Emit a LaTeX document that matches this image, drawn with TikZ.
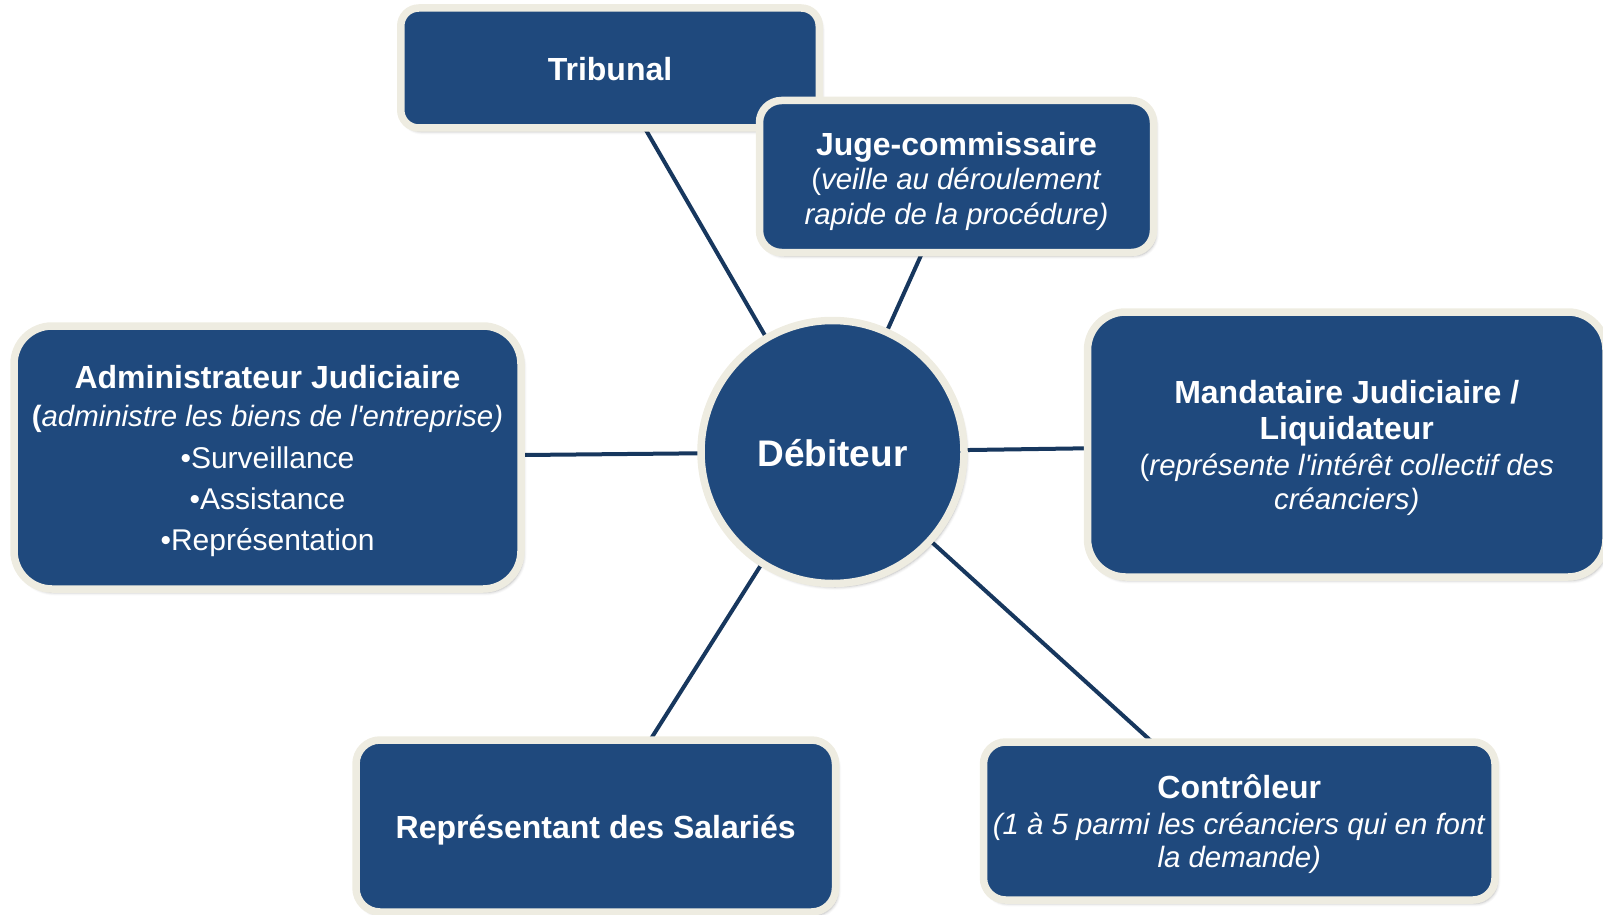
\documentclass[tikz,border=0pt]{standalone}
\usepackage{fontspec}
\newfontfamily\arial{Liberation Sans}
\usetikzlibrary{shadows.blur,backgrounds}

\definecolor{boxblue}{HTML}{1F497D}
\definecolor{rimcream}{HTML}{EEECE1}
\definecolor{linknavy}{HTML}{17375E}

\newcommand\boxtitle{\bfseries\fontsize{32}{34}\selectfont}

\tikzset{
  actor/.style={draw=rimcream, line width=7.5pt, fill=boxblue,
    inner sep=0pt,
    blur shadow={shadow xshift=2.5pt, shadow yshift=-3.5pt,
      shadow blur radius=3pt, shadow opacity=30}},
  caption/.style={text=white, align=center, inner sep=0pt,
    font=\arial\fontsize{29.4}{#1}\selectfont},
  link/.style={draw=linknavy, line width=4pt},
}

\begin{document}
\begin{tikzpicture}[x=1pt,y=-1pt]
  \useasboundingbox (0,0) rectangle (1603,915);

  % shapes: the central party and the actors of the procedure
  \node[actor, circle, minimum size=263pt] (deb) at (832.5,452) {};
  \node[actor, rounded corners=18pt, minimum width=418.5pt, minimum height=120pt]
    (trib) at (610,68) {};
  \node[actor, rounded corners=22pt, minimum width=394pt, minimum height=152pt]
    (juge) at (956.5,176.5) {};
  \node[actor, rounded corners=38pt, minimum width=507pt, minimum height=263pt]
    (admin) at (267.5,457.5) {};
  \node[actor, rounded corners=38pt, minimum width=518.5pt, minimum height=265pt]
    (mand) at (1346.75,444.5) {};
  \node[actor, rounded corners=24pt, minimum width=479.5pt, minimum height=172pt]
    (rep) at (595.75,826) {};
  \node[actor, rounded corners=22pt, minimum width=511.5pt, minimum height=158pt]
    (ctrl) at (1239.25,821) {};

  % texts
  \node[caption=40, font=\arial\bfseries\fontsize{37}{40}\selectfont]
    (debtext) at ([yshift=-1pt]deb.center) {Débiteur};
  \node[caption=34] (tribtext) at ([yshift=-1.5pt]trib.center) {{\boxtitle Tribunal}};
  \node[caption=34.5] (jugetext) at ([yshift=-4.5pt]juge.center)
    {{\boxtitle Juge-commissaire}\\
     (\textit{veille au déroulement}\\
     \textit{rapide de la procédure)}};
  \node[caption=38] (admintext) at ([yshift=-3.5pt]admin.center)
    {{\boxtitle Administrateur Judiciaire}\\
     {\bfseries(}\textit{administre les biens de l'entreprise)}\\[3.5pt]
     {\fontsize{30}{38}\selectfont •Surveillance}\\[3pt]
     {\fontsize{30}{38}\selectfont •Assistance}\\[3pt]
     {\fontsize{30}{38}\selectfont •Représentation}};
  \node[caption=34] (mandtext) at ([yshift=-3.5pt]mand.center)
    {{\boxtitle Mandataire Judiciaire /}\\[2.5pt]
     {\boxtitle Liquidateur}\\[2pt]
     (\textit{représente l'intérêt collectif des}\\
     \textit{créanciers)}};
  \node[caption=34] (reptext) at ([yshift=-4pt]rep.center)
    {{\boxtitle Représentant des Salariés}};
  \node[caption=33] (ctrltext) at ([yshift=-3.5pt]ctrl.center)
    {{\boxtitle Contrôleur}\\[3pt]
     \textit{(1 à 5 parmi les créanciers qui en font}\\
     \textit{la demande)}};

  % spokes, running under the shapes
  \begin{pgfonlayer}{background}
    \draw[link] (deb.center) -- (trib.center);
    \draw[link] (deb.center) -- (juge.center);
    \draw[link] (deb.center) -- (admin.center);
    \draw[link] (deb.center) -- (mand.center);
    \draw[link] (deb.center) -- (rep.center);
    \draw[link] (deb.center) -- (ctrl.center);
  \end{pgfonlayer}
\end{tikzpicture}
\end{document}
